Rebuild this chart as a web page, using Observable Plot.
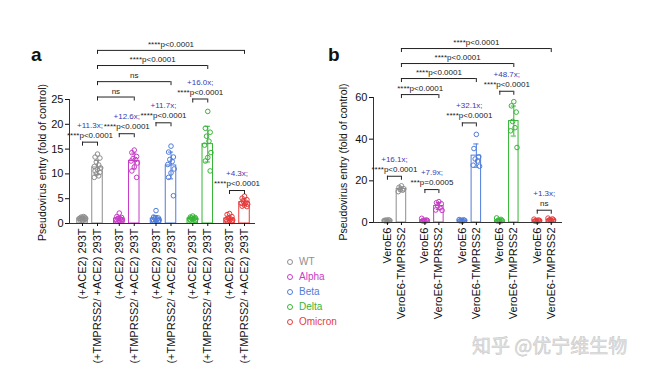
<!DOCTYPE html>
<html><head><meta charset="utf-8">
<script src="https://cdn.jsdelivr.net/npm/d3@7"></script>
<script src="https://cdn.jsdelivr.net/npm/@observablehq/plot@0.6"></script>
<style>
body{margin:0;background:#fff;}
#fig{position:relative;width:651px;height:372px;overflow:hidden;background:#fff;font-family:"Liberation Sans",Arial,sans-serif;}
#fig svg{position:absolute;top:0;overflow:visible;}
.plab{position:absolute;font-weight:bold;font-size:19px;line-height:20px;color:#111;}
.leg{position:absolute;left:287px;top:254px;font-size:10px;line-height:15px;}
.leg div{display:flex;align-items:center;height:15px;}
.leg span.c{display:inline-block;width:4px;height:4px;border:1.2px solid;border-radius:50%;margin-right:6px;}
.wm{position:absolute;left:472px;top:331px;font-family:"Noto Sans CJK SC",sans-serif;font-size:19px;color:#e6e6e6;-webkit-text-stroke:0.5px #c4c4c4;white-space:nowrap;}
</style></head><body><div id="fig"></div><script>
const variants = ["WT","Alpha","Beta","Delta","Omicron"];
const colors = ["#8e8e8e","#c63cc6","#4f7ddb","#36b536","#e63b3b"];
const BLUE = "#3a3ab4";

// ---------- Panel a data ----------
const condsA = ["(+ACE2) 293T","(+TMPRSS2/ +ACE2) 293T"];
const meanA_ctrl = [1.0, 1.0, 1.0, 1.0, 1.0];
const meanA_tmp  = [11.3, 12.6, 11.7, 16.0, 4.3];
const sdA_ctrl = [0.25, 0.45, 0.6, 0.3, 0.5];
const sdA_tmp  = [1.4, 1.6, 2.7, 3.6, 0.7];
const ptsA_ctrl = [
  [0.6,0.7,0.8,0.9,0.9,1.0,1.0,1.1,1.1,1.2,1.3,1.4],
  [2.1,1.4,1.2,1.0,0.9,0.8,0.7,0.6,0.5,0.8],
  [2.6,1.3,1.1,1.0,0.9,0.8,0.7,0.6,0.5,0.5],
  [1.5,1.3,1.2,1.1,1.0,0.9,0.9,0.8,0.7,0.6],
  [2.0,1.8,1.4,1.1,0.9,0.8,0.7,0.6,0.5,0.4]
];
const ptsA_tmp = [
  [14.0,13.4,13.2,12.4,11.8,11.5,11.2,10.9,10.6,10.3,10.0,9.6,9.3],
  [14.8,14.3,13.5,13.1,12.9,12.6,12.2,11.4,10.6,9.3],
  [15.6,14.4,13.4,12.9,12.5,11.9,11.0,10.2,9.3,5.6],
  [22.6,19.2,18.4,17.6,16.6,15.8,14.3,13.3,12.6,10.6],
  [5.5,5.1,4.8,4.5,4.3,4.1,3.9,3.7,3.5,3.4]
];
const foldA = ["+11.3x;","+12.6x;","+11.7x;","+16.0x;","+4.3x;"];
const pA = ["****p<0.0001","****p<0.0001","****p<0.0001","****p<0.0001","****p<0.0001"];
const levelA = [16.4, 18.1, 20.3, 25.1, 6.65];
const crossA_to = ["Alpha","Beta","Delta","Omicron"];
const crossA_text = ["ns","ns","****p<0.0001","****p<0.0001"];
const crossA_level = [25.5, 28.6, 31.85, 34.9];
const yTicksA = [0,5,10,15,20,25];

// ---------- Panel b data ----------
const condsB = ["VeroE6","VeroE6-TMPRSS2"];
const meanB_ctrl = [1.0, 1.0, 1.0, 1.0, 1.0];
const meanB_tmp  = [16.1, 7.9, 32.1, 48.7, 1.3];
const sdB_ctrl = [0.3, 0.5, 0.3, 0.6, 0.4];
const sdB_tmp  = [1.0, 1.7, 5.6, 7.2, 0.5];
const ptsB_ctrl = [
  [0.6,0.8,1.0,1.2,1.3,1.0],
  [0.5,0.8,1.0,1.1,1.2,2.0],
  [0.6,0.8,1.0,1.1,1.3,1.4],
  [0.5,0.7,0.9,1.2,1.5,2.2],
  [0.5,0.7,0.9,1.0,1.2,1.6]
];
const ptsB_tmp = [
  [17.6,16.9,16.2,15.8,15.5,14.8],
  [10.0,9.5,9.0,8.0,7.0,6.0,5.8],
  [42.3,35.5,31.5,30.5,29.5,27.5,27.0],
  [58.0,56.0,53.0,48.5,45.5,44.0,36.0],
  [0.8,1.0,1.2,1.4,1.7,2.1]
];
const foldB = ["+16.1x;","+7.9x;","+32.1x;","+48.7x;","+1.3x;"];
const pB = ["****p<0.0001","***p=0.0005","****p<0.0001","****p<0.0001","ns"];
const levelB = [22.2, 15.8, 47.8, 63.0, 5.9];
const crossB_to = ["Alpha","Beta","Delta","Omicron"];
const crossB_text = ["****p<0.0001","****p<0.0001","****p<0.0001","****p<0.0001"];
const crossB_level = [61.4, 69.1, 76.3, 83.5];
const yTicksB = [0,20,40,60];

const FONT = "'Liberation Sans', Arial, sans-serif";
const spreadPx = [0,-2.4,2.4,-1.2,1.2,-3.2,3.2];

function panel(o) {
  const innerW = o.width - o.ml - o.mr;
  const unit = (o.xDomain[1] - o.xDomain[0]) / innerW; // data units per px
  const off = o.offPx * unit, hw = o.barPx / 2 * unit, cap = 2.6 * unit;
  const cells = [], pts = [], pairs = [], ends = [], cross = [];
  variants.forEach((v, i) => {
    [0, 1].forEach(c => {
      const pos = i + (c ? off : -off);
      cells.push({variant: v, pos, label: o.conds[c],
        mean: (c ? o.meanT : o.meanC)[i], sd: (c ? o.sdT : o.sdC)[i]});
      (c ? o.ptsT : o.ptsC)[i].forEach((val, k) =>
        pts.push({variant: v, x: pos + spreadPx[k % spreadPx.length] * unit, y: val}));
    });
    pairs.push({i, level: o.level[i], fold: o.fold[i], p: o.p[i], x1: i - off, x2: i + off});
    ends.push({x: i - off, level: o.level[i]}, {x: i + off, level: o.level[i]});
  });
  o.crossTo.forEach((v, j) => {
    const k = variants.indexOf(v);
    cross.push({x1: off, x2: k + off, mid: k / 2 + off, level: o.crossLevel[j], text: o.crossText[j]});
    ends.push({x: off, level: o.crossLevel[j]}, {x: k + off, level: o.crossLevel[j]});
  });
  const labelOf = new Map(cells.map(d => [d.pos, d.label]));
  const svg = Plot.plot({
    width: o.width, height: 372,
    marginLeft: o.ml, marginRight: o.mr, marginTop: o.mt, marginBottom: o.mb,
    style: {fontFamily: FONT, fontSize: "11px", color: "#111", background: "transparent", overflow: "visible"},
    x: {domain: o.xDomain},
    y: {domain: o.yDomain},
    color: {domain: variants, range: colors},
    marks: [
      Plot.rectY(cells, {x1: d => d.pos - hw, x2: d => d.pos + hw, y1: 0, y2: "mean", stroke: "variant", fill: "white", strokeWidth: 1}),
      Plot.dot(pts, {x: "x", y: "y", stroke: "variant", r: 2.3, strokeWidth: 1, fill: "none"}),
      Plot.ruleX(cells, {x: "pos", y1: d => d.mean - d.sd, y2: d => d.mean + d.sd, stroke: "variant", strokeWidth: 1}),
      Plot.ruleY(cells, {x1: d => d.pos - cap, x2: d => d.pos + cap, y: d => d.mean + d.sd, stroke: "variant", strokeWidth: 1}),
      Plot.ruleY(cells, {x1: d => d.pos - cap, x2: d => d.pos + cap, y: d => d.mean - d.sd, stroke: "variant", strokeWidth: 1}),
      Plot.ruleY([0], {stroke: "#333", strokeWidth: 1}),
      Plot.ruleX([o.xDomain[0]], {y1: 0, y2: o.yDomain[1], stroke: "#333", strokeWidth: 1}),
      Plot.axisY(o.yTicks, {tickSize: 4, tickPadding: 2, fontSize: 11, label: null}),
      Plot.axisX(cells.map(d => d.pos), {tickFormat: p => labelOf.get(p), tickRotate: -90, tickSize: 3, tickPadding: 2, fontSize: 11, label: null}),
      // brackets
      Plot.ruleY(pairs, {x1: "x1", x2: "x2", y: "level", stroke: "#222", strokeWidth: 1}),
      Plot.ruleY(cross, {x1: "x1", x2: "x2", y: "level", stroke: "#222", strokeWidth: 1}),
      Plot.ruleX(ends, {x: "x", y1: "level", y2: "level", insetBottom: -4, stroke: "#222", strokeWidth: 1}),
      Plot.text(pairs, {x: "i", y: "level", text: "fold", dy: -17, fill: BLUE, fontSize: 8}),
      Plot.text(pairs, {x: "i", y: "level", text: "p", dy: -7, fill: "#222", fontSize: 8}),
      Plot.text(cross, {x: "mid", y: "level", text: "text", dy: -6, fill: "#222", fontSize: 8}),
      Plot.text(["Pseudovirus entry (fold of control)"], {frameAnchor: "left", textAnchor: "middle", lineAnchor: "middle", rotate: -90, dx: o.ylabDx, dy: o.ylabDy, fontSize: 10.5, fill: "#111"})
    ]
  });
  svg.style.left = o.left + "px";
  return svg;
}

const fig = document.getElementById("fig");
fig.appendChild(panel({
  left: 0, width: 320, ml: 69, mr: 65, mt: 99, mb: 149,
  xDomain: [-0.558, 4.503], yDomain: [0, 25], yTicks: yTicksA,
  offPx: 7.5, barPx: 10.5,
  conds: condsA, meanC: meanA_ctrl, meanT: meanA_tmp, sdC: sdA_ctrl, sdT: sdA_tmp,
  ptsC: ptsA_ctrl, ptsT: ptsA_tmp, fold: foldA, p: pA, level: levelA,
  crossTo: crossA_to, crossText: crossA_text, crossLevel: crossA_level,
  ylabDx: -27, ylabDy: 1
}));
fig.appendChild(panel({
  left: 320, width: 331, ml: 53, mr: 89, mt: 97, mb: 150,
  xDomain: [-0.559, 4.487], yDomain: [0, 60], yTicks: yTicksB,
  offPx: 7, barPx: 9.5,
  conds: condsB, meanC: meanB_ctrl, meanT: meanB_tmp, sdC: sdB_ctrl, sdT: sdB_tmp,
  ptsC: ptsB_ctrl, ptsT: ptsB_tmp, fold: foldB, p: pB, level: levelB,
  crossTo: crossB_to, crossText: crossB_text, crossLevel: crossB_level,
  ylabDx: -29.5, ylabDy: 2
}));

// panel letters
[["a", 31, 45], ["b", 328, 45]].forEach(([t, x, y]) => {
  const d = document.createElement("div");
  d.className = "plab"; d.textContent = t;
  d.style.left = x + "px"; d.style.top = y + "px";
  fig.appendChild(d);
});

// legend
const leg = document.createElement("div");
leg.className = "leg";
variants.forEach((v, i) => {
  const row = document.createElement("div");
  row.style.color = colors[i];
  const c = document.createElement("span");
  c.className = "c"; c.style.borderColor = colors[i];
  row.appendChild(c);
  row.appendChild(document.createTextNode(v));
  leg.appendChild(row);
});
fig.appendChild(leg);

// watermark
const wm = document.createElement("div");
wm.className = "wm"; wm.textContent = "知乎 @优宁维生物";
fig.appendChild(wm);
</script></body></html>
